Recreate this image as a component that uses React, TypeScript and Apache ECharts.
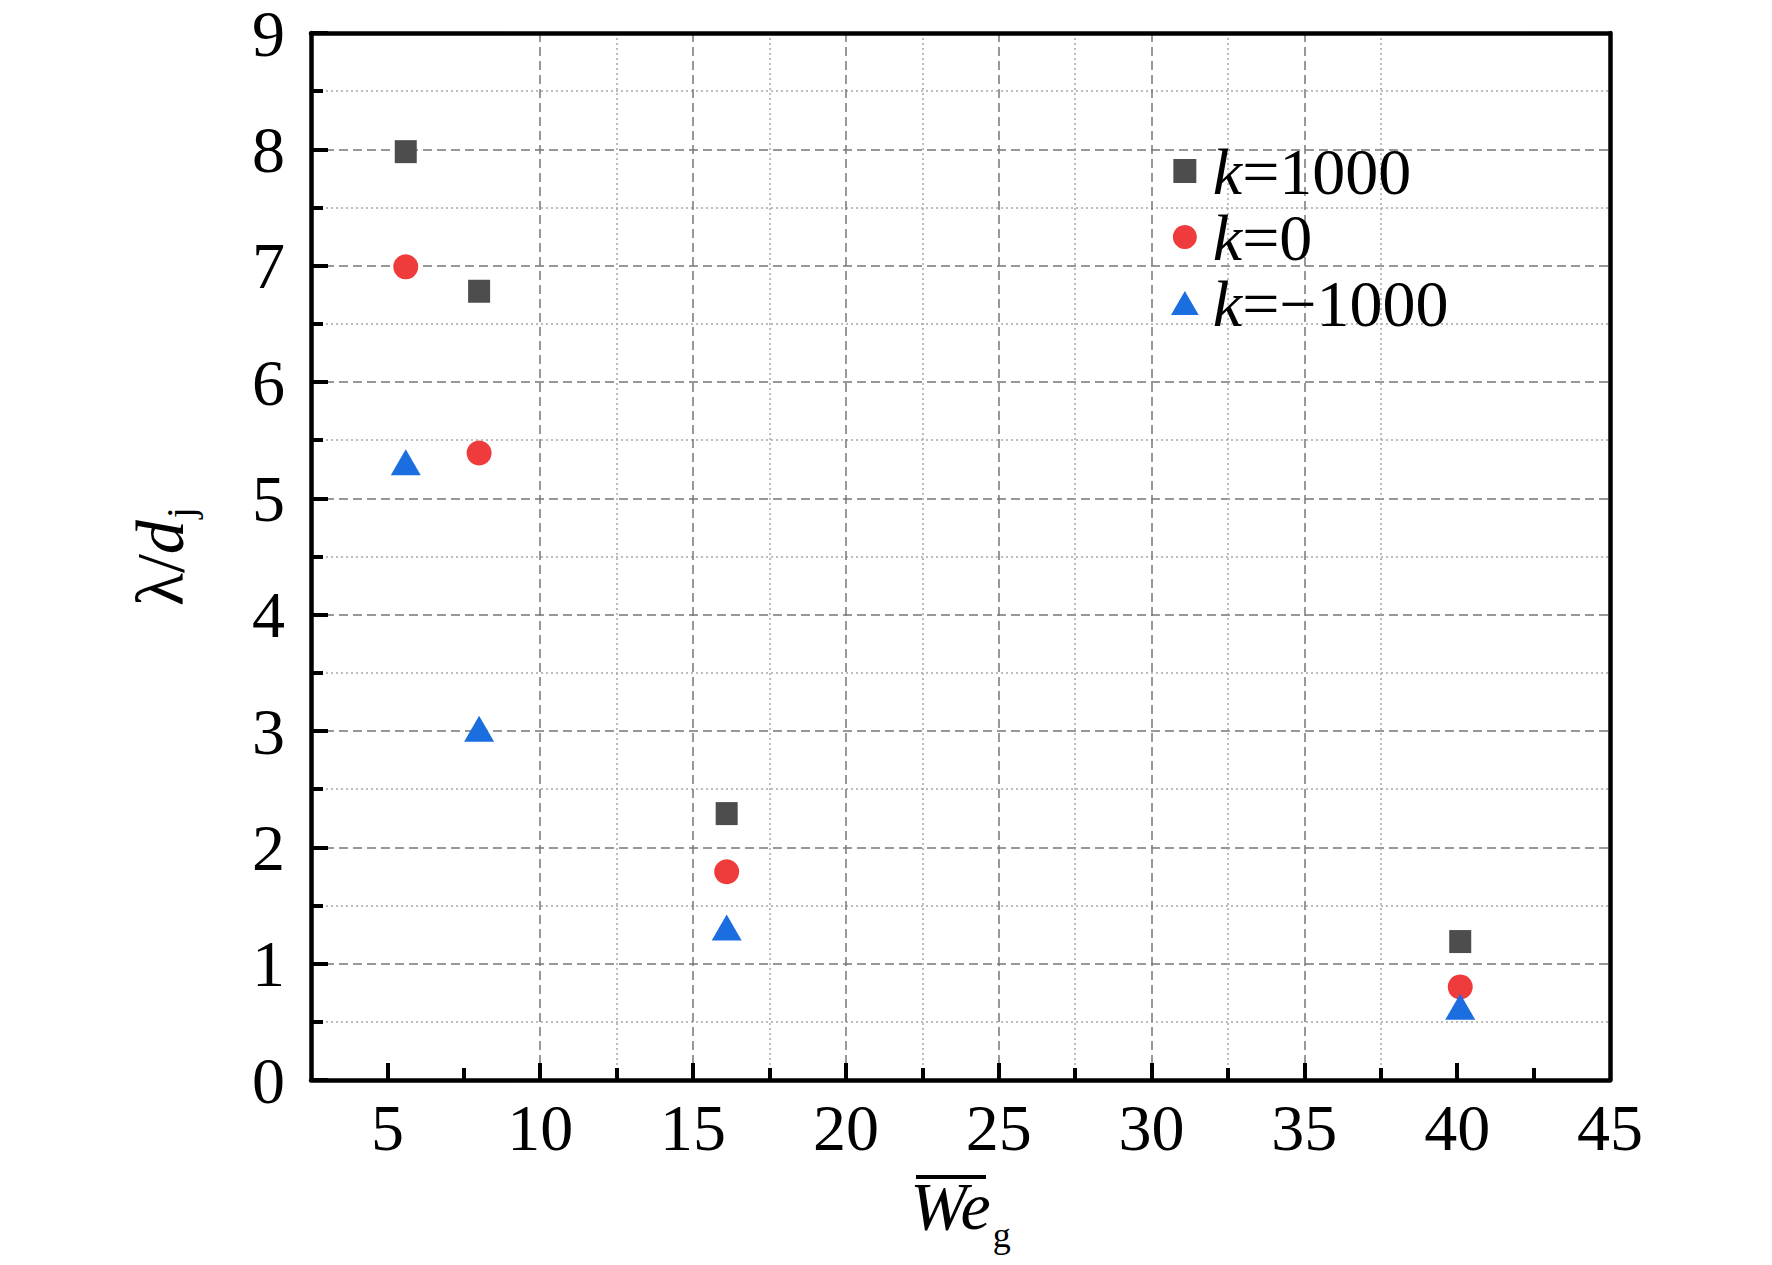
import React, { useEffect, useRef } from "react";
import * as echarts from "echarts";

const seriesNames = ["k=1000", "k=0", "k=\u22121000"];
const weValues = [5.6, 8.0, 16.1, 40.1];
const kPos = [7.98, 6.78, 2.29, 1.19];
const kZero = [6.99, 5.39, 1.79, 0.8];
const kNeg = [5.31, 3.02, 1.31, 0.63];
const xMajorTicks = [5, 10, 15, 20, 25, 30, 35, 40];
const xMinorTicks = [7.5, 12.5, 17.5, 22.5, 27.5, 32.5, 37.5, 42.5];
const xTickLabels = [5, 10, 15, 20, 25, 30, 35, 40, 45];

const FONT = "'Liberation Serif', 'Times New Roman', serif";
const colors = ["#4d4d4d", "#ef3b3b", "#1b6ee0"];
const symbols = ["rect", "circle", "triangle"];
const symbolSizes: any[] = [[22, 23], 25, [30, 26]];
const legendIcons = ["path://M0,0L22,0L22,23L0,23Z", "circle", "path://M15,0L30,26L0,26Z"];

export default function App() {
  const ref = useRef<HTMLDivElement>(null);
  useEffect(() => {
    if (!ref.current) return;
    const chart = echarts.init(ref.current, undefined, { renderer: "svg" });
    const dashed = { type: [9, 5], color: "#777777", width: 1.5 };
    const dotted = { type: [2, 3], color: "#a6a6a6", width: 1.5 };
    const seriesData = [kPos, kZero, kNeg];
    const option: any = {
      animation: false,
      backgroundColor: "#ffffff",
      grid: { left: 311, right: 162, top: 33, bottom: 185, containLabel: false },
      xAxis: [
        {
          type: "value",
          min: 2.5,
          max: 45,
          interval: 2.5,
          position: "bottom",
          axisLine: { show: true, lineStyle: { color: "#000", width: 4.5 } },
          axisTick: { show: true, inside: true, length: 17, customValues: xMajorTicks, lineStyle: { color: "#000", width: 4 } },
          axisLabel: { show: true, customValues: xTickLabels, fontSize: 66, fontFamily: FONT, color: "#000", margin: 14 },
          splitLine: { show: true, showMinLine: false, showMaxLine: false, lineStyle: dashed },
          name: "{w|We}{s|g}",
          nameLocation: "middle",
          nameGap: 92,
          nameTextStyle: {
            rich: {
              w: { fontSize: 68, fontFamily: FONT, fontStyle: "italic", color: "#000", lineHeight: 70, verticalAlign: "top" },
              s: { fontSize: 36, fontFamily: FONT, color: "#000", lineHeight: 36, padding: [45, 0, 0, 2], verticalAlign: "top" },
            },
          },
        },
        {
          type: "value",
          min: 2.5,
          max: 45,
          interval: 5,
          position: "bottom",
          axisLine: { show: false },
          axisTick: { show: true, inside: true, length: 12, customValues: xMinorTicks, lineStyle: { color: "#000", width: 4 } },
          axisLabel: { show: false },
          splitLine: { show: true, showMinLine: false, showMaxLine: false, lineStyle: dotted },
        },
        {
          type: "value",
          min: 2.5,
          max: 45,
          position: "top",
          axisLine: { show: true, onZero: false, lineStyle: { color: "#000", width: 4.5 } },
          axisTick: { show: false },
          axisLabel: { show: false },
          splitLine: { show: false },
        },
      ],
      yAxis: [
        {
          type: "value",
          min: 0,
          max: 9,
          interval: 1,
          axisLine: { show: true, onZero: false, lineStyle: { color: "#000", width: 4.5 } },
          axisTick: { show: true, inside: true, length: 17, lineStyle: { color: "#000", width: 4 } },
          minorTick: { show: true, splitNumber: 2, length: 12, lineStyle: { color: "#000", width: 4 } },
          axisLabel: { fontSize: 66, lineHeight: 50, fontFamily: FONT, color: "#000", margin: 26 },
          splitLine: { show: true, showMinLine: false, showMaxLine: false, lineStyle: dashed },
          minorSplitLine: { show: true, lineStyle: dotted },
          name: "{g|\u03bb/}{i|d}{s|j}",
          nameLocation: "middle",
          nameRotate: 90,
          nameGap: 117,
          nameTextStyle: {
            rich: {
              g: { fontSize: 68, fontFamily: FONT, color: "#000", lineHeight: 68, verticalAlign: "top" },
              i: { fontSize: 68, fontFamily: FONT, fontStyle: "italic", color: "#000", lineHeight: 68, verticalAlign: "top" },
              s: { fontSize: 40, fontFamily: FONT, color: "#000", lineHeight: 40, padding: [34, 0, 0, 2], verticalAlign: "top" },
            },
          },
        },
        {
          type: "value",
          min: 0,
          max: 9,
          position: "right",
          axisLine: { show: true, onZero: false, lineStyle: { color: "#000", width: 4.5 } },
          axisTick: { show: false },
          axisLabel: { show: false },
          splitLine: { show: false },
        },
      ],
      graphic: [
        { type: "rect", shape: { x: 916, y: 1175, width: 70, height: 4 }, style: { fill: "#000" } },
      ],
      legend: {
        show: true,
        orient: "vertical",
        left: 1171,
        top: 138,
        padding: 0,
        itemGap: 0,
        itemWidth: 30,
        itemHeight: 24,
        symbolKeepAspect: true,
        data: seriesNames.map((n, i) => ({ name: n, icon: legendIcons[i], itemStyle: { color: colors[i] } })),
        formatter: (name: string) => "{i|k}" + name.slice(1),
        textStyle: {
          fontSize: 66,
          fontFamily: FONT,
          color: "#000",
          lineHeight: 66,
          padding: [0, 0, 0, 8],
          rich: {
            i: { fontSize: 66, fontFamily: FONT, fontStyle: "italic", color: "#000", lineHeight: 66 },
          },
        },
      },
      series: seriesNames.map((n, si) => ({
        name: n,
        type: "scatter",
        xAxisIndex: 0,
        yAxisIndex: 0,
        symbol: symbols[si],
        symbolSize: symbolSizes[si],
        itemStyle: { color: colors[si], opacity: 1 },
        z: 3 + si,
        data: weValues.map((x, i) => [x, seriesData[si][i]]),
      })),
    };
    chart.setOption(option);
    return () => chart.dispose();
  }, []);
  return (
    <div
      ref={ref}
      style={{ position: "absolute", left: 0, top: 0, width: 1772, height: 1265, background: "#fff" }}
    />
  );
}
